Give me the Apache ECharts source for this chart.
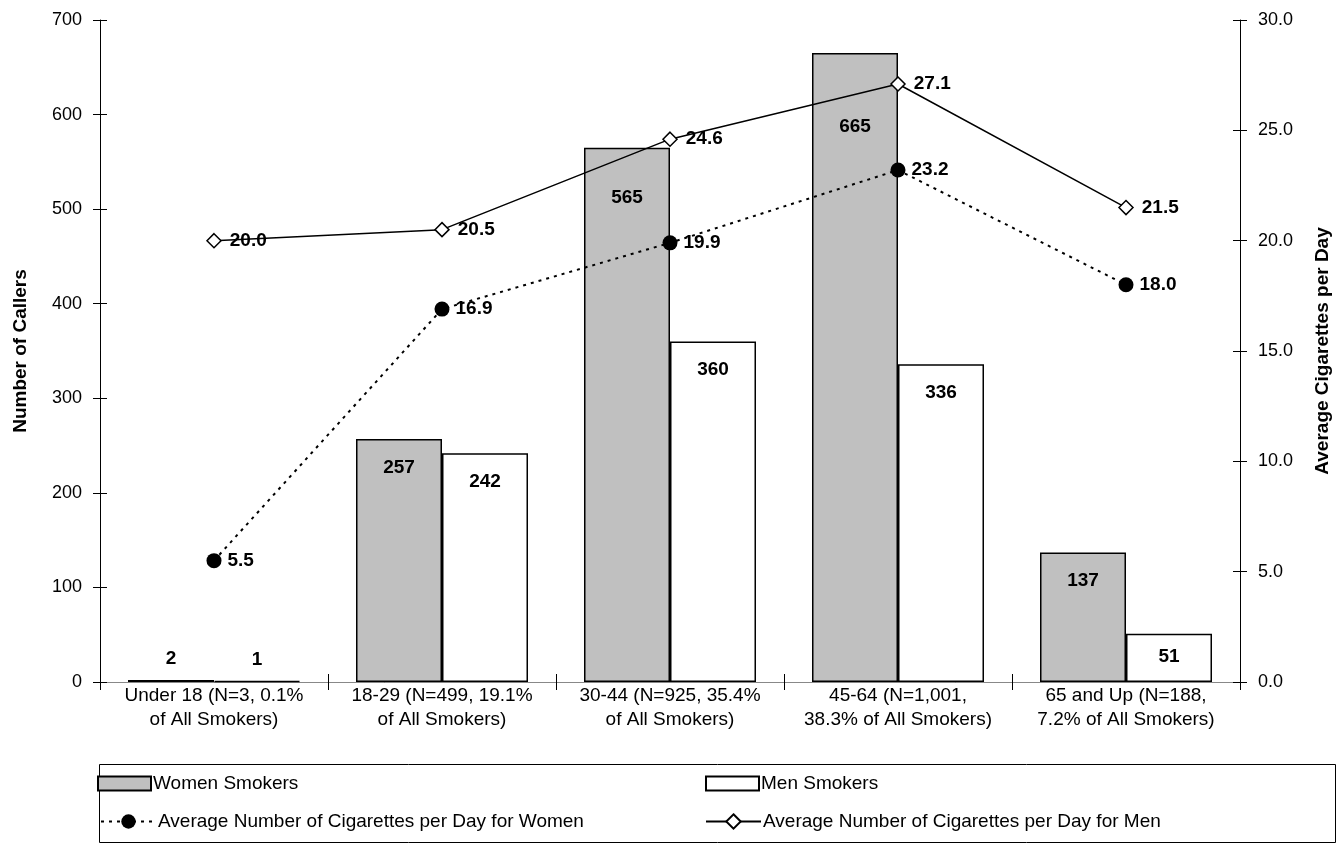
<!DOCTYPE html>
<html>
<head>
<meta charset="utf-8">
<title>Callers by Age Group</title>
<script src="https://cdn.jsdelivr.net/npm/echarts@6/dist/echarts.min.js"></script>
<style>
  html, body { margin: 0; padding: 0; background: #fff; overflow: hidden; }
  #chart { width: 1340px; height: 844px; }
</style>
</head>
<body>
<div id="chart"></div>
<script>
// Age groups (two-line category labels)
const categories = [
  'Under 18 (N=3, 0.1%\nof All Smokers)',
  '18-29 (N=499, 19.1%\nof All Smokers)',
  '30-44 (N=925, 35.4%\nof All Smokers)',
  '45-64 (N=1,001,\n38.3% of All Smokers)',
  '65 and Up (N=188,\n7.2% of All Smokers)'
];

// Number of callers
const womenSmokers = [2, 257, 565, 665, 137];
const menSmokers = [1, 242, 360, 336, 51];

// Average cigarettes per day
const womenAvgCigs = [5.5, 16.9, 19.9, 23.2, 18.0];
const menAvgCigs = [20.0, 20.5, 24.6, 27.1, 21.5];

// Axis ranges
const leftAxis = { min: 0, max: 700, interval: 100 };
const rightAxis = { min: 0, max: 30, interval: 5 };

const FONT = 'Liberation Sans, Arial, sans-serif';
const black = '#000';

// Label placement for the bars: tiny bars get labels above them,
// tall bars get their labels pushed down clear of the lines.
function barData(values, distances) {
  return values.map((v, i) => {
    const d = distances[i];
    if (d === 'top') {
      return { value: v, label: { position: 'top', distance: 12 } };
    }
    return { value: v, label: { position: 'insideTop', distance: d } };
  });
}

const chart = echarts.init(document.getElementById('chart'), null, {
  renderer: 'canvas', width: 1340, height: 844
});

const barLabel = {
  show: true,
  color: black,
  fontFamily: FONT,
  fontWeight: 'bold',
  fontSize: 19
};

const lineLabel = {
  show: true,
  position: 'right',
  color: black,
  fontFamily: FONT,
  fontWeight: 'bold',
  fontSize: 19,
  formatter: p => p.value.toFixed(1)
};

const legendText = { fontFamily: FONT, fontSize: 19, color: black, padding: [0, 0, 0, -3] };

const option = {
  backgroundColor: '#fff',
  animation: false,
  grid: { left: 100, width: 1145, top: 20, height: 662, containLabel: false },
  legend: [
    { data: [{ name: 'Women Smokers', icon: 'rect' }], left: 97, top: 774, itemWidth: 53, itemHeight: 14, itemGap: 0, textStyle: legendText, padding: 0 },
    { data: [{ name: 'Men Smokers', icon: 'rect' }], left: 705, top: 774, itemWidth: 53, itemHeight: 14, itemGap: 0, textStyle: legendText, padding: 0 },
    { data: ['Average Number of Cigarettes per Day for Women'], left: 100, top: 812, itemWidth: 55, itemHeight: 18, itemGap: 0, textStyle: legendText, padding: 0 },
    { data: ['Average Number of Cigarettes per Day for Men'], left: 705, top: 812, itemWidth: 55, itemHeight: 18, itemGap: 0, textStyle: legendText, padding: 0 }
  ],
  graphic: [
    {
      type: 'rect',
      left: 97, top: 762,
      shape: { width: 1236, height: 78 },
      style: { fill: 'none', stroke: black, lineWidth: 1 },
      silent: true
    }
  ],
  xAxis: [
    {
      type: 'category',
      data: categories,
      position: 'bottom',
      axisLine: { lineStyle: { color: black, width: 1 } },
      axisTick: { show: true, inside: false, length: 8, lineStyle: { color: black } },
      axisLabel: { color: black, fontFamily: FONT, fontSize: 19, lineHeight: 24, margin: 2, interval: 0 },
      splitLine: { show: false }
    },
    {
      // inward half of the boundary ticks
      type: 'category',
      data: categories,
      position: 'bottom',
      axisLine: { show: false },
      axisTick: { show: true, inside: true, length: 8, lineStyle: { color: black } },
      axisLabel: { show: false },
      splitLine: { show: false }
    },
    {
      // thin top edge of the plot area
      type: 'category',
      data: categories,
      position: 'top',
      axisLine: { lineStyle: { color: '#888', width: 1 } },
      axisTick: { show: false },
      axisLabel: { show: false },
      splitLine: { show: false }
    }
  ],
  yAxis: [
    {
      type: 'value',
      position: 'left',
      min: leftAxis.min, max: leftAxis.max, interval: leftAxis.interval,
      name: 'Number of Callers',
      nameLocation: 'middle',
      nameGap: 70,
      nameRotate: 90,
      nameTextStyle: { color: black, fontFamily: FONT, fontWeight: 'bold', fontSize: 19 },
      axisLine: { show: true, lineStyle: { color: black, width: 1 } },
      axisTick: { show: true, inside: false, length: 7, lineStyle: { color: black } },
      axisLabel: { color: black, fontFamily: FONT, fontSize: 18, margin: 18 },
      splitLine: { show: false }
    },
    {
      type: 'value',
      position: 'right',
      min: rightAxis.min, max: rightAxis.max, interval: rightAxis.interval,
      name: 'Average Cigarettes per Day',
      nameLocation: 'middle',
      nameGap: 73,
      nameRotate: 90,
      nameTextStyle: { color: black, fontFamily: FONT, fontWeight: 'bold', fontSize: 19 },
      axisLine: { show: true, lineStyle: { color: black, width: 1 } },
      axisTick: { show: true, inside: false, length: 7, lineStyle: { color: black } },
      axisLabel: { color: black, fontFamily: FONT, fontSize: 18, margin: 18, formatter: v => v.toFixed(1) },
      splitLine: { show: false }
    },
    {
      // inward half of the left ticks
      type: 'value',
      position: 'left',
      min: leftAxis.min, max: leftAxis.max, interval: leftAxis.interval,
      axisLine: { show: false },
      axisTick: { show: true, inside: true, length: 7, lineStyle: { color: black } },
      axisLabel: { show: false },
      splitLine: { show: false }
    },
    {
      // inward half of the right ticks
      type: 'value',
      position: 'right',
      min: rightAxis.min, max: rightAxis.max, interval: rightAxis.interval,
      axisLine: { show: false },
      axisTick: { show: true, inside: true, length: 7, lineStyle: { color: black } },
      axisLabel: { show: false },
      splitLine: { show: false }
    }
  ],
  series: [
    {
      name: 'Women Smokers',
      type: 'bar',
      xAxisIndex: 0, yAxisIndex: 0,
      barWidth: 86,
      barGap: '0%',
      itemStyle: { color: '#C0C0C0', borderColor: black, borderWidth: 1.5 },
      label: barLabel,
      data: barData(womenSmokers, ['top', 19, 41, 64, 19]),
      z: 2
    },
    {
      name: 'Men Smokers',
      type: 'bar',
      xAxisIndex: 0, yAxisIndex: 0,
      barWidth: 86,
      barGap: '0%',
      itemStyle: { color: '#FFFFFF', borderColor: black, borderWidth: 1.5 },
      label: barLabel,
      data: barData(menSmokers, ['top', 19, 19, 19, 13]),
      z: 2
    },
    {
      name: 'Average Number of Cigarettes per Day for Women',
      type: 'line',
      xAxisIndex: 0, yAxisIndex: 1,
      symbol: 'circle',
      symbolSize: 15,
      itemStyle: { color: black, borderColor: black, borderWidth: 0 },
      lineStyle: { color: black, width: 2, type: [3, 5] },
      label: Object.assign({}, lineLabel, { distance: 6 }),
      data: womenAvgCigs,
      z: 4
    },
    {
      name: 'Average Number of Cigarettes per Day for Men',
      type: 'line',
      xAxisIndex: 0, yAxisIndex: 1,
      symbol: 'diamond',
      symbolSize: 14,
      itemStyle: { color: '#fff', borderColor: black, borderWidth: 1.5 },
      lineStyle: { color: black, width: 1.5, type: 'solid' },
      label: Object.assign({}, lineLabel, { distance: 8 }),
      data: menAvgCigs,
      z: 4
    }
  ]
};

chart.setOption(option);
</script>
</body>
</html>
